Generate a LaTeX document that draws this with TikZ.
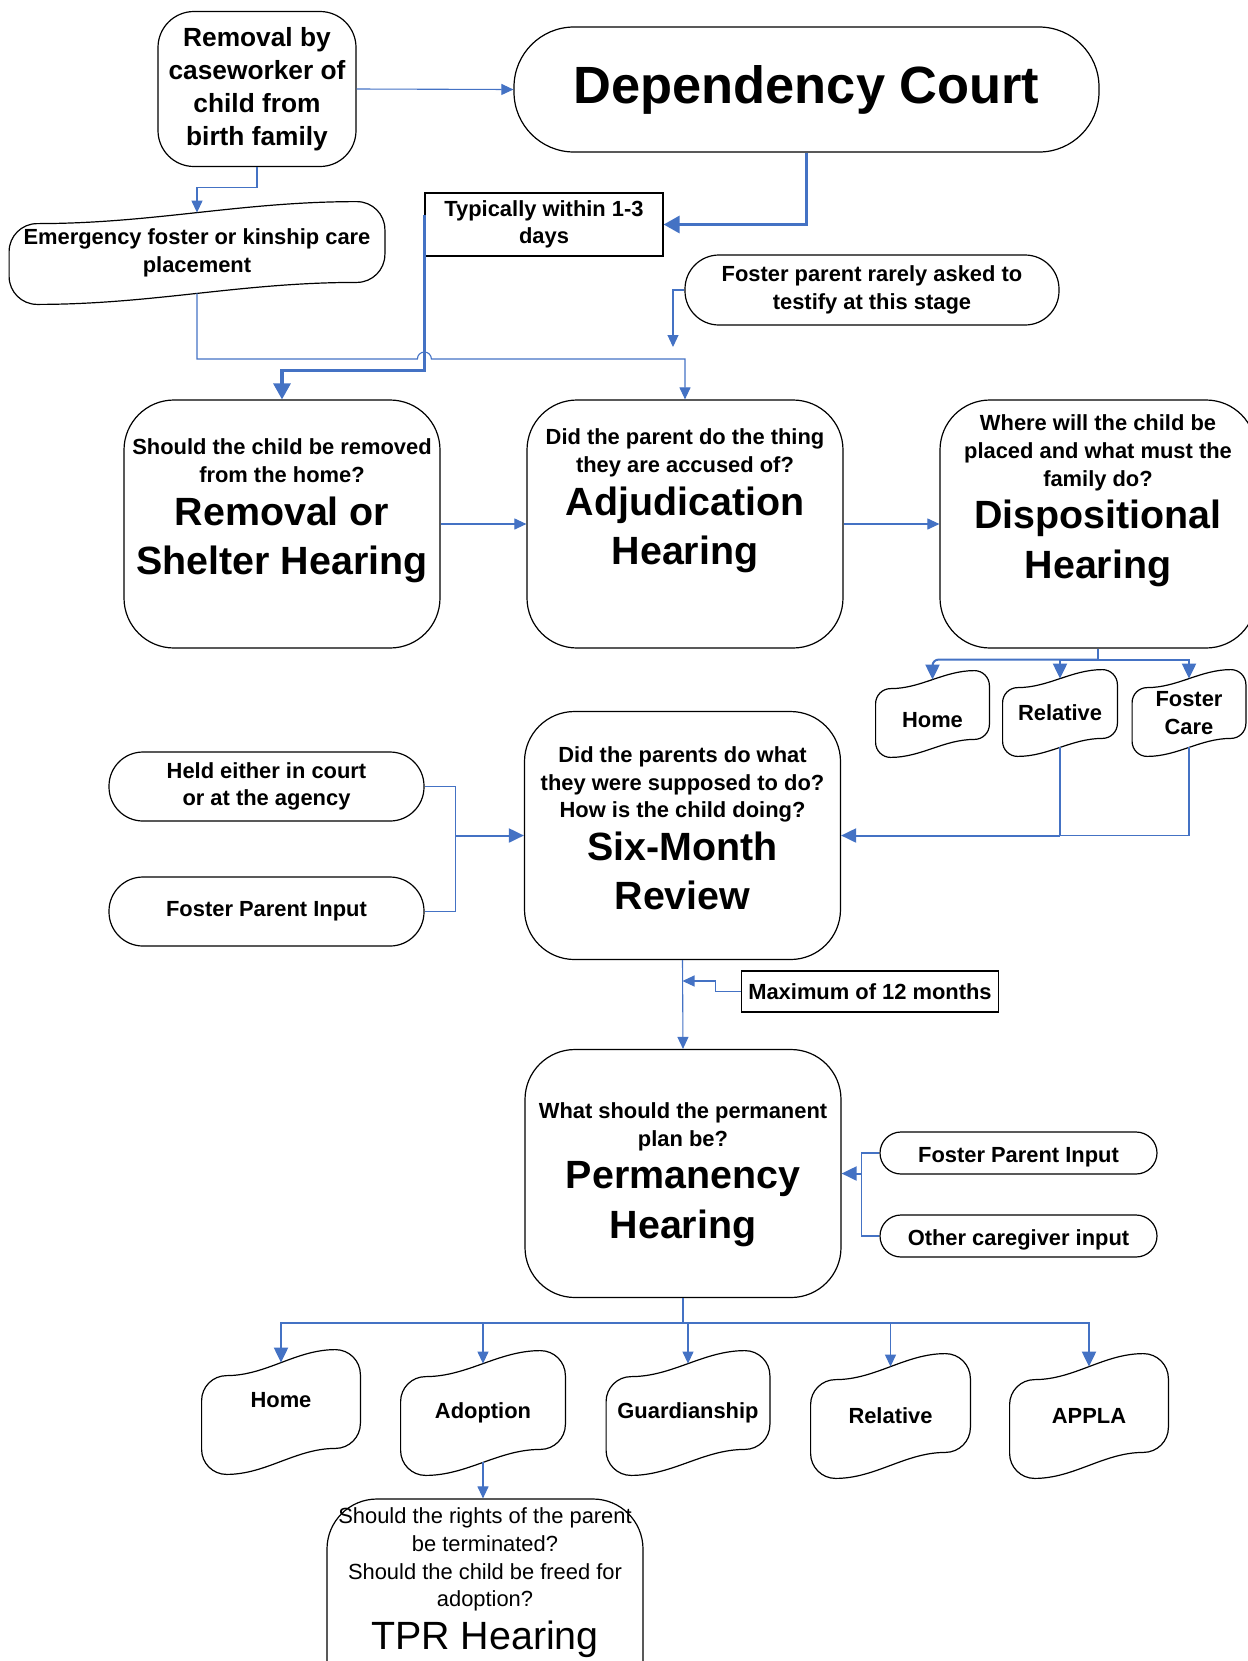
\documentclass[tikz,border=0pt]{standalone}
\usepackage{fontspec}
\setmainfont{Liberation Sans}
\usetikzlibrary{positioning,calc,arrows.meta}

\newcommand\qfnt{\fontsize{10.95}{13.8}\selectfont\bfseries\lineskip=0pt}
\newcommand\hfnt{\fontsize{19.7}{24.7}\selectfont\bfseries}
\newcommand\qfntr{\fontsize{10.95}{13.8}\selectfont\lineskip=0pt}
\newcommand\hfntr{\fontsize{19.7}{24.7}\selectfont}
\newcommand\rfnt{\fontsize{13.15}{16.5}\selectfont\bfseries}
\newcommand\dfnt{\fontsize{26.2}{30}\selectfont\bfseries}

\begin{document}
\begin{tikzpicture}[x=0.5pt, y=-0.5pt,
  box/.style={draw, line width=0.6pt, align=center, inner sep=0pt, font=\qfnt},
  hearing/.style={box, rounded corners=25pt, minimum width=158pt, minimum height=124pt},
  pill/.style={box, rounded corners=#1},
  wavy/.style={align=center, inner sep=0pt, font=\qfnt},
  htext/.style={align=center, inner sep=0pt, font=\qfnt, anchor=north},
  conn/.style={draw=cblue, line width=0.55pt},
  connm/.style={draw=cblue, line width=0.8pt},
  arr/.style={conn, -{Triangle[width=5.5pt,length=6pt]}},
  arrm/.style={draw=cblue, line width=1pt, -{Triangle[width=7pt,length=7.5pt]}},
  arrthick/.style={draw=cblue, line width=1.6pt, -{Triangle[width=8.5pt,length=8pt]}}]
  \definecolor{cblue}{HTML}{4472C4}
  \def\tapeline#1#2#3{
    \draw[line width=0.6pt] let \p1=(#1.north west), \p2=(#1.south east),
        \n1={0.364*(\x2-\x1-2*#3)} in
      (\x1,{\y1-#2-#3})
      .. controls (\x1,{\y1-#2-0.448*#3}) and ({\x1+0.448*#3},{\y1-#2}) .. ({\x1+#3},{\y1-#2})
      .. controls ({\x1+#3+\n1},{\y1-#2}) and ({\x2-#3-\n1},{\y1+#2}) .. ({\x2-#3},{\y1+#2})
      .. controls ({\x2-0.448*#3},{\y1+#2}) and (\x2,{\y1+#2-0.448*#3}) .. (\x2,{\y1+#2-#3})
      -- (\x2,{\y2+#2+#3})
      .. controls (\x2,{\y2+#2+0.448*#3}) and ({\x2-0.448*#3},{\y2+#2}) .. ({\x2-#3},{\y2+#2})
      .. controls ({\x2-#3-\n1},{\y2+#2}) and ({\x1+#3+\n1},{\y2-#2}) .. ({\x1+#3},{\y2-#2})
      .. controls ({\x1+0.448*#3},{\y2-#2}) and (\x1,{\y2-#2+0.448*#3}) .. (\x1,{\y2-#2+#3})
      -- cycle;
  }
  \useasboundingbox (0,0) rectangle (1248,1661);

  \node[pill=18pt, font=\rfnt, minimum width=99pt, minimum height=77.5pt] (remv) at (257,89)
    {Removal by\\caseworker of\\child from\\birth family};
  \node[pill=30pt, font=\dfnt, minimum width=292.5pt, minimum height=62.5pt] (dep) at (806.5,89.5)
    {Dependency Court};
  \node[wavy, minimum width=187.5pt, minimum height=40pt] (emer) at (197,253)
    {Emergency foster or kinship care\\placement};
  \node[box, minimum width=119pt, minimum height=31.5pt] (typ) at (544,224.5)
    {Typically within 1-3\\days};
  \node[pill=17pt, minimum width=187pt, minimum height=35pt] (rare) at (872,290)
    {Foster parent rarely asked to\\testify at this stage};
  \coordinate (rareend) at (673,347);

  \node[hearing] (rem) at (282,524) {};
  \node[hearing] (adj) at (685,524) {};
  \node[hearing] (disp) at (1098,524) {};
  \node[htext, below=17.9pt of rem.north] (remt)
    {Should the child be removed\strut\\from the home?\strut\\
     \hfnt Removal or\strut\\\hfnt Shelter Hearing\strut};
  \node[htext, below=12.9pt of adj.north] (adjt)
    {Did the parent do the thing\strut\\they are accused of?\strut\\
     \hfnt Adjudication\strut\\\hfnt Hearing\strut};
  \node[htext, below=5.9pt of disp.north] (dispt)
    {Where will the child be\strut\\placed and what must the\strut\\family do?\strut\\
     \hfnt Dispositional\strut\\\hfnt Hearing\strut};

  \node[wavy, minimum width=56.5pt, minimum height=34pt, text height=13.9pt] (dhome) at (932.5,714) {Home};
  \node[wavy, minimum width=57pt, minimum height=34pt] (drel) at (1060,713) {Relative};
  \node[wavy, minimum width=56.5pt, minimum height=34pt] (dfost) at (1189,713) {Foster\\Care};

  \node[pill=17pt, minimum width=157.5pt, minimum height=34.5pt] (held) at (266.5,786.5)
    {Held either in court\\or at the agency};
  \node[pill=17pt, minimum width=157.5pt, minimum height=34.5pt] (fpil) at (266.5,911.5)
    {Foster Parent Input};
  \node[hearing] (six) at (682.5,835.5) {};
  \node[htext, below=15.9pt of six.north] (sixt)
    {Did the parents do what\strut\\they were supposed to do?\strut\\How is the child doing?\strut\\
     \hfnt Six-Month\strut\\\hfnt Review\strut};
  \node[box, minimum width=128.5pt, minimum height=20.5pt] (maxm) at (870,991.5)
    {Maximum of 12 months};

  \node[hearing] (perm) at (683,1173.5) {};
  \node[htext, below=24.9pt of perm.north] (permt)
    {What should the permanent\strut\\plan be?\strut\\
     \hfnt Permanency\strut\\\hfnt Hearing\strut};
  \node[pill=10.5pt, minimum width=138.5pt, minimum height=21pt, text height=12pt] (fpir) at (1018.5,1153)
    {Foster Parent Input};
  \node[pill=10.5pt, minimum width=138.5pt, minimum height=21pt, text height=12pt] (other) at (1018.5,1236)
    {Other caregiver input};

  \node[wavy, minimum width=79pt, minimum height=49pt, text depth=12pt] (phome) at (281,1412) {Home};
  \node[wavy, minimum width=82pt, minimum height=49pt] (padopt) at (483,1413) {Adoption};
  \node[wavy, minimum width=81.5pt, minimum height=49pt] (pguard) at (688,1413) {Guardianship};
  \node[wavy, minimum width=79.5pt, minimum height=49pt] (prel) at (890.5,1416) {Relative};
  \node[wavy, minimum width=79pt, minimum height=49pt] (pappla) at (1089,1416) {APPLA};

  \node[hearing] (tpr) at (485,1623) {};
  \node[htext, font=\qfntr, below=2.9pt of tpr.north] (tprt)
    {Should the rights of the parent\strut\\be terminated?\strut\\
     Should the child be freed for\strut\\adoption?\strut\\\hfntr TPR Hearing\strut};

  \tapeline{emer}{5.5pt}{14pt}
  \tapeline{dhome}{4.5pt}{7.5pt}
  \tapeline{drel}{4.5pt}{7.5pt}
  \tapeline{dfost}{4.5pt}{7.5pt}
  \tapeline{phome}{6.5pt}{12.5pt}
  \tapeline{padopt}{6.5pt}{12.5pt}
  \tapeline{pguard}{6.5pt}{12.5pt}
  \tapeline{prel}{6.5pt}{12.5pt}
  \tapeline{pappla}{6.5pt}{12.5pt}

  \coordinate (hop) at (typ.west |- 0,359);
  \draw[arr] (remv.east) -- (dep.west);
  \draw[arr] (remv.south) -- ++(0,20) -| (emer.north);
  \draw[arrthick] (dep.south) |- (typ.east);
  \draw[arrthick] ([yshift=5pt]typ.west) -- ++(0,156) -| (rem.north);
  \draw[arr] (emer.south) |- ([xshift=-3.5pt]hop)
    arc[start angle=180, end angle=0, radius=3.5pt] -| (adj.north);
  \draw[arr] (rare.west) -| (rareend);
  \draw[arr] (rem.east) -- (adj.west);
  \draw[arr] (adj.east) -- (disp.west);

  \draw[connm] (disp.south) -- ++(0,11) coordinate (dbus);
  \draw[arrm, rounded corners=3pt] (dbus) -| (dhome.north);
  \draw[arrm] (dbus) -| (drel.north);
  \draw[arrm] (dbus) -| (dfost.north);
  \draw[conn] (dfost.south) |- (drel.south |- six.east);
  \draw[conn] (drel.south) -- (drel.south |- six.east);
  \draw[arrm] (drel.south |- six.east) -- (six.east);

  \draw[conn] (held.east) -| ([xshift=-34pt]six.west);
  \draw[conn] (fpil.east) -| ([xshift=-34pt]six.west);
  \draw[arrm] ([xshift=-34pt]six.west) -- (six.west);

  \draw[arr] (six.south) -- (perm.north);
  \draw[arr] (maxm.west) -- ++(-25,0) |- (six.south |- 0,981);

  \draw[conn] (fpir.west) -| ([xshift=10pt]perm.east);
  \draw[conn] (other.west) -| ([xshift=10pt]perm.east);
  \draw[arrm] ([xshift=10pt]perm.east) -- (perm.east);

  \draw[connm] (perm.south) -- ++(0,25) coordinate (pbus);
  \draw[arrm] (pbus) -| (phome.north);
  \draw[arr] (pbus) -| (padopt.north);
  \draw[arr] (pbus) -| (pguard.north);
  \draw[arr] (pbus) -| (prel.north);
  \draw[arrm] (pbus) -| (pappla.north);
  \draw[arr] (padopt.south) -- (padopt.south |- tpr.north);
\end{tikzpicture}
\end{document}
